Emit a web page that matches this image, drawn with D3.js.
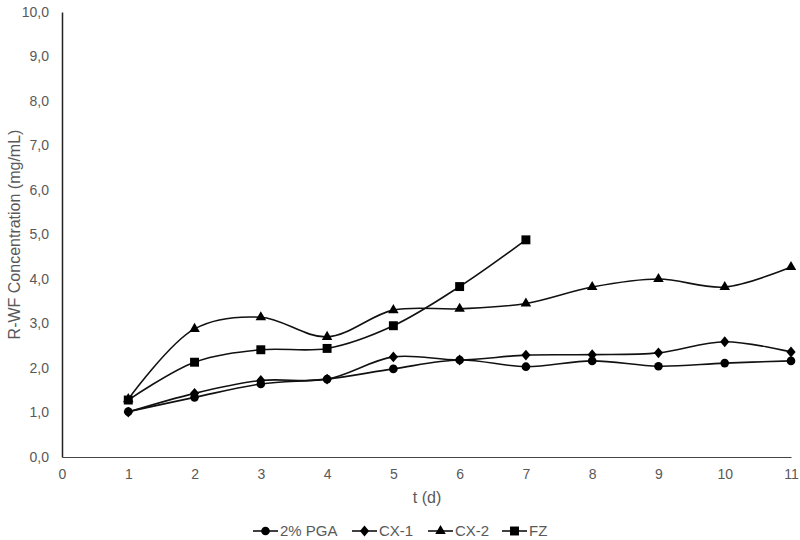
<!DOCTYPE html>
<html>
<head>
<meta charset="utf-8">
<script src="https://cdn.jsdelivr.net/npm/d3@7"></script>
<style>
  body { margin: 0; background: #fff; }
  svg { font-family: "Liberation Sans", Arial, sans-serif; }
</style>
</head>
<body>
<figure style="margin:0"></figure>
<script>
// data
const days = [1, 2, 3, 4, 5, 6, 7, 8, 9, 10, 11];
const pga = [1.02, 1.34, 1.64, 1.75, 1.98, 2.18, 2.03, 2.16, 2.04, 2.11, 2.16];
const cx1 = [1.01, 1.43, 1.72, 1.75, 2.25, 2.18, 2.29, 2.30, 2.34, 2.59, 2.36];
const cx2 = [1.30, 2.88, 3.14, 2.70, 3.30, 3.33, 3.45, 3.82, 4.00, 3.82, 4.27];
const fz = [1.28, 2.13, 2.41, 2.44, 2.95, 3.83, 4.88];
const seriesNames = ["2% PGA", "CX-1", "CX-2", "FZ"];
const xTicks = [0, 1, 2, 3, 4, 5, 6, 7, 8, 9, 10, 11];
const yTicks = [0, 1, 2, 3, 4, 5, 6, 7, 8, 9, 10];

function buildChart() {
    const width = 800, height = 540;
    const left = 62, right = 791, top = 12, bottom = 457;
    const textCol = "#595959";

    const svg = d3.select("figure")
        .append("svg")
        .attr("width", width)
        .attr("height", height);

    const xScale = d3.scaleLinear().domain([0, 11]).range([left, right]);
    const yScale = d3.scaleLinear().domain([0, 10]).range([bottom, top]);

    const fmt = d => d3.format(".1f")(d).replace(".", ",");

    // y axis
    const yAxis = svg.append("g")
        .attr("transform", "translate(" + left + ",0)")
        .call(d3.axisLeft(yScale).tickValues(yTicks).tickFormat(fmt).tickSize(0).tickPadding(13));
    yAxis.select(".domain").attr("stroke", "#222").attr("stroke-width", 1.5);
    yAxis.selectAll("text").attr("fill", textCol).style("font-size", "14px");

    // x axis
    const xAxis = svg.append("g")
        .attr("transform", "translate(0," + bottom + ")")
        .call(d3.axisBottom(xScale).tickValues(xTicks).tickFormat(d3.format("d")).tickSize(0).tickPadding(12));
    xAxis.select(".domain").attr("stroke", "#444").attr("stroke-width", 1.2);
    xAxis.selectAll("text").attr("fill", textCol).style("font-size", "14px");

    // axis titles
    svg.append("text")
        .attr("transform", "translate(14," + ((top + bottom) / 2) + ") rotate(-90)")
        .attr("text-anchor", "middle")
        .attr("dy", "0.35em")
        .attr("fill", textCol)
        .style("font-size", "16px")
        .text("R-WF Concentration (mg/mL)");

    svg.append("text")
        .attr("x", 427)
        .attr("y", 497)
        .attr("dy", "0.35em")
        .attr("text-anchor", "middle")
        .attr("fill", textCol)
        .style("font-size", "16px")
        .text("t (d)");

    const allSeries = [pga, cx1, cx2, fz].map((vals, i) => ({
        name: seriesNames[i],
        values: vals.map((v, j) => ({ x: days[j], y: v }))
    }));

    // Excel-like markers
    const diamond = { draw(ctx, size) { const w = 4.6, h = 5.4; ctx.moveTo(0, -h); ctx.lineTo(w, 0); ctx.lineTo(0, h); ctx.lineTo(-w, 0); ctx.closePath(); } };
    const shapes = [d3.symbolCircle, diamond, d3.symbolTriangle, d3.symbolSquare];
    const sizes = [58, 50, 48, 80];

    const line = d3.line()
        .x(d => xScale(d.x))
        .y(d => yScale(d.y))
        .curve(d3.curveCatmullRom.alpha(0.5));

    const groups = svg.selectAll("g.series")
        .data(allSeries)
        .enter()
        .append("g")
        .attr("class", "series");

    groups.append("path")
        .attr("d", d => line(d.values))
        .attr("fill", "none")
        .attr("stroke", "#111")
        .attr("stroke-width", 1.6);

    groups.each(function (s, i) {
        d3.select(this).selectAll("path.mark")
            .data(s.values)
            .enter()
            .append("path")
            .attr("class", "mark")
            .attr("d", d3.symbol().type(shapes[i]).size(sizes[i]))
            .attr("transform", d => "translate(" + xScale(d.x) + "," + yScale(d.y) + ")")
            .attr("fill", "#000");
    });

    // legend
    const legendX = [253, 352, 428, 502];
    const legend = svg.selectAll("g.legend")
        .data(seriesNames)
        .enter()
        .append("g")
        .attr("class", "legend")
        .attr("transform", (d, i) => "translate(" + legendX[i] + ",531)");
    legend.append("line")
        .attr("x1", 0).attr("x2", 25)
        .attr("stroke", "#111").attr("stroke-width", 1.6);
    legend.append("path")
        .attr("d", (d, i) => d3.symbol().type(shapes[i]).size(sizes[i])())
        .attr("transform", "translate(12.5,0)")
        .attr("fill", "#000");
    legend.append("text")
        .attr("x", 27)
        .attr("dy", "0.35em")
        .attr("fill", textCol)
        .style("font-size", "15px")
        .text(d => d);
}

buildChart();
</script>
</body>
</html>
